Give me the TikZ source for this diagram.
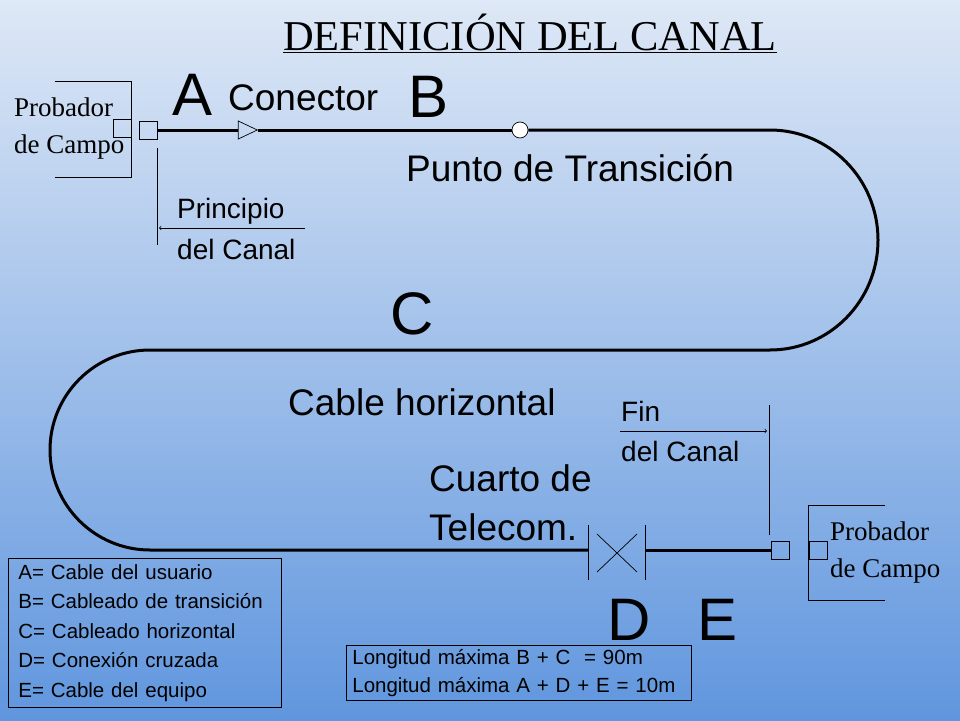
\documentclass[tikz,border=0pt]{standalone}
\usepackage{fontspec}
\setmainfont{Liberation Serif}
\setsansfont{Liberation Sans}
\usetikzlibrary{arrows,positioning,shapes.geometric}
\definecolor{bgtop}{RGB}{222,232,246}
\definecolor{bgbot}{RGB}{96,150,222}
\tikzset{
    cable/.style={line width=3pt},
    hair/.style={line width=0.7pt},
    portbox/.style={draw, hair, minimum size=18pt, inner sep=0pt},
    sans/.style={font=\sffamily, anchor=west, inner sep=0pt},
    legend/.style={draw, hair, anchor=north west, align=left, font=\sffamily\fontsize{20.5}{29.5}\selectfont, inner xsep=10pt, inner ysep=6pt}
}
\begin{document}
\begin{tikzpicture}[x=1pt,y=-1pt]
    % Background
    \shade[top color=bgtop, bottom color=bgbot] (0,0) rectangle (960,720);
    \useasboundingbox (0,0) rectangle (960,720);

    % Title
    \node (title) at (530,33) {\fontsize{42.5}{42.5}\selectfont\underline{DEFINICIÓN DEL CANAL}};

    % Tester at the start
    \draw[hair] (55,81) -- (131,81) -- (131,177) -- (55,177);
    \node[portbox] (tsta) at (122,128) {};
    \node[portbox] (porta) at (148,130) {};
    \node[anchor=west, font=\fontsize{27}{37}\selectfont, align=left, inner sep=0pt] (proba) at (14,129) {Probador\\de Campo};

    % Cable run
    \coordinate (a0) at (157,130);
    \coordinate (a1) at (770,130);
    \coordinate (a2) at (770,350);
    \coordinate (a3) at (150,350);
    \coordinate (a4) at (150,550);
    \coordinate (a5) at (588,550);
    \coordinate (a6) at (645,550);
    \node[draw, hair, fill=white, circle, minimum size=16pt, inner sep=0pt] (trans) at (520,130) {};
    \node[draw, hair, isosceles triangle, isosceles triangle stretches, minimum width=18pt, minimum height=19pt, inner sep=0pt] (conn) at (244,130) {};
    \draw[cable] (porta.east) -- (conn.west);
    \draw[cable] (conn.east) -- (trans.west);
    \draw[cable] (trans.east) -- (a1) arc[start angle=90, end angle=-90, x radius=108, y radius=-110] -- (a3)
        arc[start angle=90, end angle=270, x radius=100, y radius=-100] -- (a5);

    % Cross connection
    \draw[hair] (588,525) -- (588,580) (645,525) -- (645,580);
    \draw[hair] (597,534) -- (637,572) (637,534) -- (597,572);

    % Tester at the end
    \node[portbox] (porte) at (780,550) {};
    \node[portbox] (tste) at (818,550) {};
    \draw[cable] (a6) -- (porte.west);
    \draw[hair] (885,505) -- (808,505) -- (808,600) -- (885,600);
    \node[anchor=west, font=\fontsize{27}{37}\selectfont, align=left, inner sep=0pt] (probe) at (830,552) {Probador\\de Campo};

    % Channel limits
    \draw[hair] (157,148) -- (157,245);
    \draw[hair, ->] (305,228) -- (159,228);
    \node[sans, font=\sffamily\fontsize{28}{28}\selectfont] (princ) at (177,211) {Principio};
    \node[sans, font=\sffamily\fontsize{28}{28}\selectfont] (delca) at (177,249) {del Canal};
    \draw[hair] (769,405) -- (769,535);
    \draw[hair, ->] (620,431) -- (767,431);
    \node[sans, font=\sffamily\fontsize{28}{28}\selectfont] (fin) at (621,411) {Fin};
    \node[sans, font=\sffamily\fontsize{28}{28}\selectfont] (delcb) at (621,451) {del Canal};

    % Labels
    \node[sans, font=\sffamily\fontsize{60}{60}\selectfont] (la) at (172,95) {A};
    \node[sans, font=\sffamily\fontsize{37}{37}\selectfont] (lcon) at (228,98) {Conector};
    \node[sans, font=\sffamily\fontsize{60}{60}\selectfont] (lb) at (408,97) {B};
    \node[sans, font=\sffamily\fontsize{37}{37}\selectfont] (lpt) at (406,168) {Punto de Transición};
    \node[sans, font=\sffamily\fontsize{60}{60}\selectfont] (lc) at (390,314) {C};
    \node[sans, font=\sffamily\fontsize{37}{37}\selectfont] (lch) at (288,402) {Cable horizontal};
    \node[sans, font=\sffamily\fontsize{37}{37}\selectfont] (lct1) at (429,478) {Cuarto de};
    \node[sans, font=\sffamily\fontsize{37}{37}\selectfont] (lct2) at (429,527) {Telecom.};
    \node[sans, font=\sffamily\fontsize{60}{60}\selectfont] (ld) at (607,620) {D};
    \node[sans, font=\sffamily\fontsize{60}{60}\selectfont] (le) at (697,620) {E};

    % Legends
    \node[legend, text width=253pt] (key) at (8,558) {A= Cable del usuario\\B= Cableado de transición\\C= Cableado horizontal\\D= Conexión cruzada\\E= Cable del equipo};
    \node[legend, text width=333pt, font=\sffamily\fontsize{20.5}{28}\selectfont, inner xsep=6pt, inner ysep=4pt] (lmax) at (346,645) {Longitud máxima B + C \ = 90m\\Longitud máxima A + D + E = 10m};
\end{tikzpicture}
\end{document}
